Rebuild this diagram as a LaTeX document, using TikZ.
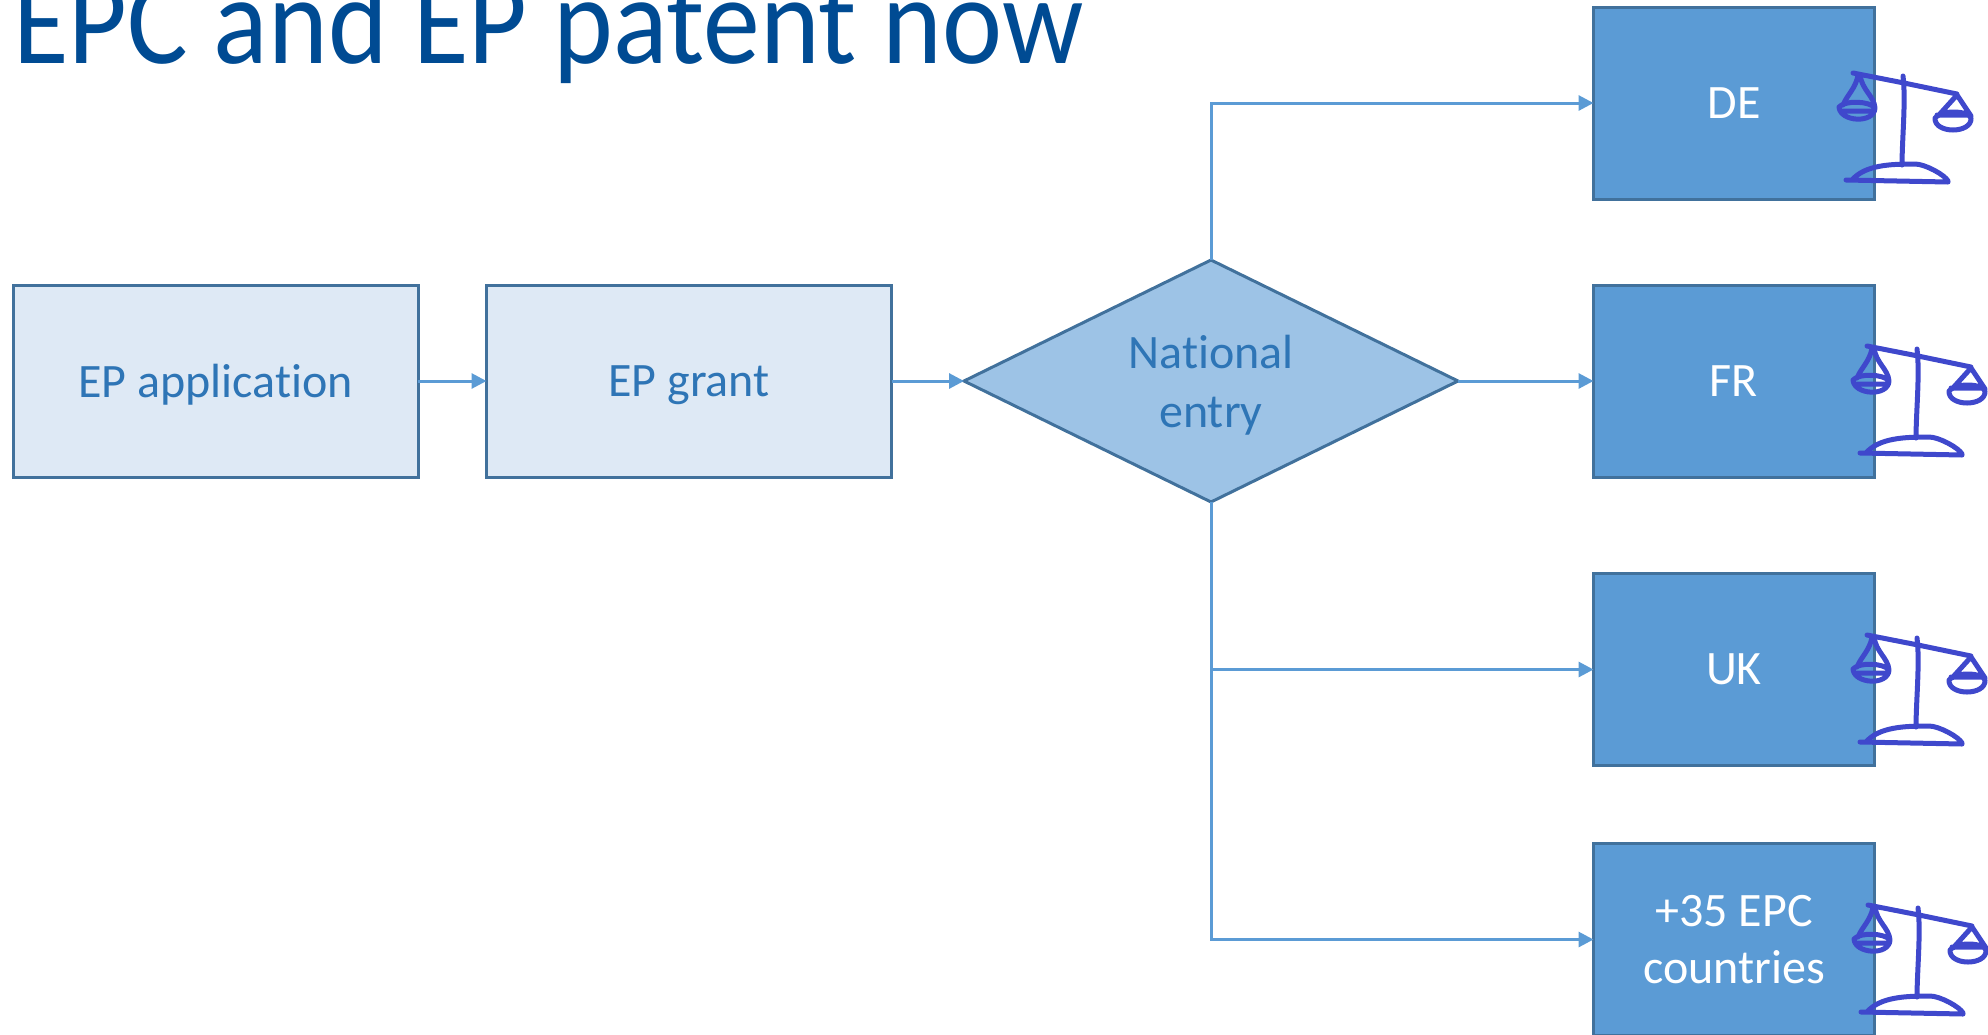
\documentclass[tikz,border=0pt]{standalone}
\usepackage{fontspec}
\setmainfont[Ligatures=NoCommon]{Carlito}
\usetikzlibrary{positioning, arrows.meta, shapes.geometric}
\definecolor{titleblue}{HTML}{004B93}
\definecolor{edgeblue}{HTML}{41719C}
\definecolor{lineblue}{HTML}{5B9BD5}
\definecolor{paleblue}{HTML}{DEE9F5}
\definecolor{midblue}{HTML}{9DC3E6}
\definecolor{textblue}{HTML}{2E75B6}
\definecolor{inkblue}{HTML}{3F48CC}
\tikzset{
	scales/.pic = {
	 \draw [inkblue, line width=5pt, line cap=round, line join=round]
	  (73,33) -- (124,43) -- (177,54)
	  (123,36) .. controls (126,60) and (122,100) .. (122,125)
	  (78,35) .. controls (76,48) and (67,55) .. (63,65)
	  (80,35) .. controls (82,50) and (94,56) .. (95,68)
	  (59,67) .. controls (60,82) and (94,84) .. (95,68) .. controls (90,61) and (65,60) .. (59,67)
	  (61,71) -- (93,71)
	  (177,55) -- (158,76)
	  (177,55) -- (191,76)
	  (155,78) .. controls (154,94) and (192,94) .. (191,78) .. controls (188,70) and (160,70) .. (155,78)
	  (157,75) -- (190,75)
	  (66,140) -- (168,142)
	  (72,140) .. controls (85,125) and (110,124) .. (135,124) .. controls (145,124) and (165,135) .. (168,141);
	 }
	}
\tikzset{
	lightbox/.style = {draw=edgeblue, fill=paleblue, text=textblue, line width=3pt, outer sep=0pt, text depth=0pt,
	 minimum width=405pt, minimum height=192pt, font=\fontsize{48}{58}\selectfont},
	darkbox/.style = {draw=edgeblue, fill=lineblue, text=white, line width=3pt, outer sep=0pt, align=center, text depth=-3.5pt,
	 minimum width=281pt, minimum height=192pt, font=\fontsize{48}{57}\selectfont},
	link/.style = {draw=lineblue, line width=3pt, -{Triangle[length=15pt, width=15pt]}}
}
\begin{document}
\begin{tikzpicture}[x=1pt, y=-1pt]
\useasboundingbox (0,0) rectangle (1988,1034);

% NODES
% title
\node (title) [anchor=base west, inner sep=0pt, text=titleblue, xscale=.91, transform shape, font=\fontsize{125}{125}\selectfont] at (13,63) {EPC and EP patent now};
% application, grant, entry
\node (app) [lightbox] at (215.5,381) {EP application};
\node (grant) [lightbox, right=68.5pt of app] {EP grant};
\node (entry) [diamond, aspect=2.04, draw=edgeblue, fill=midblue, text=textblue, line width=3pt, outer sep=0pt, inner sep=0pt, text depth=0pt,
 minimum width=494pt, minimum height=242pt, align=center, font=\fontsize{48}{59}\selectfont, right=72.5pt of grant] {National\\entry};
% countries
\node (fr) [darkbox, right=135.5pt of entry] {FR};
\node (de) [darkbox, above=86pt of fr] {DE};
\node (uk) [darkbox, below=96.5pt of fr] {UK};
\node (epc) [darkbox, below=78pt of uk] {+35 EPC\\countries};

%CONNECTIONS
\draw [link] (app) -- (grant);
\draw [link] (grant) -- (entry);
\draw [link] (entry) -- (fr);
\draw [link] (entry.north) |- (de);
\draw [link] (entry.south) |- (uk);
\draw [link] (entry.south) |- (epc);

% SCALES
\pic at (1780,40) {scales};
\pic at (1794,313) {scales};
\pic at (1794,602) {scales};
\pic at (1795,872) {scales};

\end{tikzpicture}
\end{document}
